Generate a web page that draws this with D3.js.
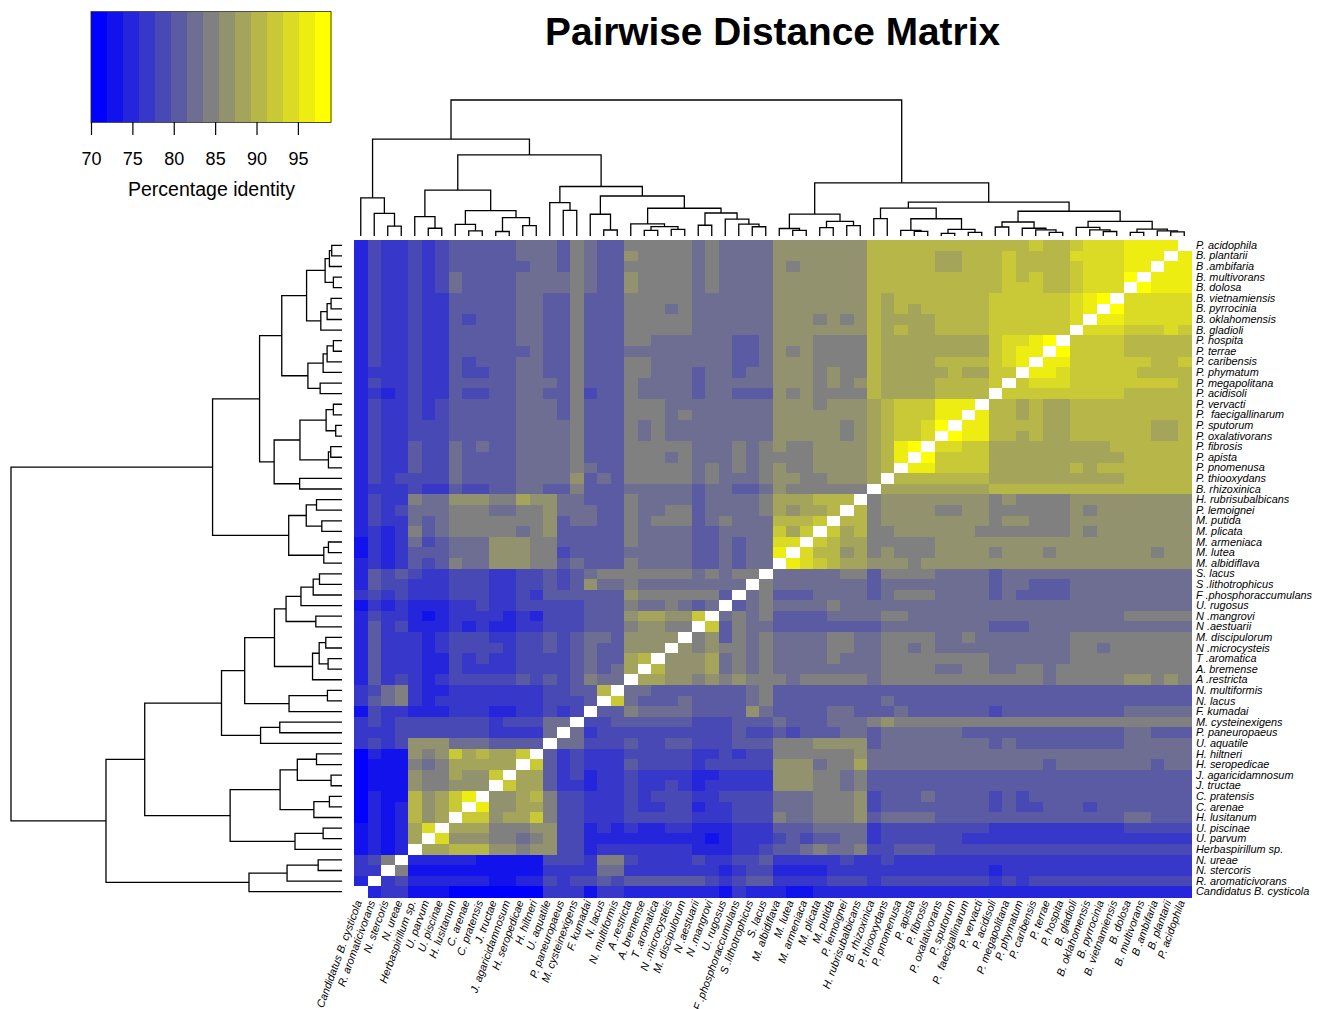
<!DOCTYPE html>
<html><head><meta charset="utf-8">
<script src="https://cdn.jsdelivr.net/npm/d3@7"></script>
<style>html,body{margin:0;padding:0;background:#fff;overflow:hidden}svg{display:block}text{font-family:"Liberation Sans",Arial,sans-serif;fill:#000}</style>
</head><body><svg id="c" width="1321" height="1009"></svg>
<script>
const titleText = "Pairwise Distance Matrix";
const keyTitle = "Percentage identity";
const keyTicks = [70,75,80,85,90,95];
const keyRange = [70,99];
const keyBins = 15;
const rowLabels = ["P. acidophila","B. plantarii","B .ambifaria","B. multivorans","B. dolosa","B. vietnamiensis","B. pyrrocinia","B. oklahomensis","B. gladioli","P. hospita","P. terrae","P. caribensis","P. phymatum","P. megapolitana","P. acidisoli","P. vervacti","P.  faecigallinarum","P. sputorum","P. oxalativorans","P. fibrosis","P. apista","P. pnomenusa","P. thiooxydans","B. rhizoxinica","H. rubrisubalbicans","P. lemoignei","M. putida","M. plicata","M. armeniaca","M. lutea","M. albidiflava","S. lacus","S .lithotrophicus","F .phosphoraccumulans","U. rugosus","N .mangrovi","N .aestuarii","M. discipulorum","N .microcysteis","T .aromatica","A. bremense","A .restricta","N. multiformis","N. lacus","F. kumadai","M. cysteinexigens","P. paneuropaeus","U. aquatile","H. hiltneri","H. seropedicae","J. agaricidamnosum","J. tructae","C. pratensis","C. arenae","H. lusitanum","U. piscinae","U. parvum","Herbaspirillum sp.","N. ureae","N. stercoris","R. aromaticivorans","Candidatus B. cysticola"];
// Identity class per cell (base-15 digit = bin of the colour key), "-" = self comparison.
// Columns run in the reverse of the row order.
const identityRows = [
"2433434 55555 66657655 77777676666 8888888 aaaaaaaaa aaabaa bcccdddd-",
"2433434 55555 66657655 87777676666 8888888 aaaaa99aa abaaaa ccccddd-d",
"2433434 55555 56657655 77777676666 8788888 aaaaa99aa abaaaa bcccdd-dd",
"2433434 65555 66667655 87777676666 8888888 aaaaaaaaa ababaa bccce-ddd",
"2433434 65555 66667655 87777676666 8888888 aaaaaaaaa abbbaa bccc-eddd",
"2433433 55555 66557555 77777666666 8888888 a9aaaaaaa bbbbbb cde-ccccc",
"2433433 55555 66557555 77767666666 8888888 a9a9aaaaa bbbbbb cd-eccccc",
"2433433 54555 66557555 77777666666 8887878 a9999aaaa bbbbbb c-ddccccc",
"2433433 55555 66557555 77777666666 8888888 a9a99aaaa bbbbbb -cccbbbcb",
"2433433 55555 66557555 77666666556 8887777 a99999999 bccde- bbbbaaaaa",
"2433433 55555 56557555 66666666556 8787777 a99999999 bcdd-e bbbbaaaaa",
"2433433 54555 66557555 77666666556 8887777 a9999aaaa bcd-dd bbbbbbaab",
"2333433 54455 66557555 77666566566 8887877 a99999a99 bb-ddc bbbbbaaaa",
"2433433 55555 66657555 76666566666 8887878 a9999aaaa b-bccc bbbbbbbba",
"2323433 54455 66557455 76666566555 8787777 a9999aaaa -bbbbb bbbbaaaaa",
"2433434 55555 66657555 77766666666 8887888 9abbbddd- aa9a99 aaaaaaaaa",
"2433434 55555 66657555 77767666666 8888888 9abbbdd-d aa9a99 aaaaaaaaa",
"2433444 55555 66667555 76766666666 8888878 9abbce-dd aaaa99 aaaaaa99a",
"2433444 55555 66667555 76766666666 8888878 9abbc-edd aa9a99 aaaaaa99a",
"2433544 65655 66667555 77777666767 8778888 9ade-ccbb 999999 999aaaaaa",
"2433544 65555 66667555 77767666767 7778888 9ad-ebbbb 999999 9999aaaaa",
"2433544 65555 66667655 77777676767 8778888 9a-ddbbbb 999999 a9aaaaaaa",
"2434444 65555 66668565 77777676667 8877888 9-aaaaaaa 999999 9999aaaaa",
"2333433 54455 66557555 66666566556 8777777 -99999999 aaaaaa aaaaaaaaa",
"2433766 88877 98866555 76666566667 999aaa- 788888888 787777 888888888",
"2434666 77766 77866655 76677566667 9899a-a 788887788 777777 878888888",
"2433656 77777 77856655 76777567666 aaab-aa 788888888 788777 888888888",
"2323756 77777 67855555 76666556666 b9b-b9a 778888887 777777 878888888",
"1323645 66688 87755555 76666556566 cc-ba99 777778888 888888 888888888",
"1323555 66688 87745555 66666556566 d-caa89 787778888 788878 888888788",
"2323545 76688 87756555 76666556566 -dcba99 888788888 888888 888888888",
"2545433 44433 44545677 7777767677- 6666677 577776666 566666 666666666",
"2544333 44433 44545866 766666666-7 6666666 566666666 566555 666666666",
"3434333 44433 43555555 87777775-67 5556666 567776666 565555 666666666",
"1323222 33433 44444555 7667656-567 6666766 666666666 666666 666666666",
"2433212 33332 32444555 89988b-6767 5555666 677666666 666666 666677777",
"2534222 32322 33444555 78877-b5766 5555555 566666666 555666 666666666",
"2533323 44433 44545665 8888-785767 6666776 677776676 666666 777777777",
"2533323 44443 44545655 888-8787767 6666776 677676666 666666 776777777",
"2533322 43433 44445655 9a-88896767 6666766 677777777 666666 777777777",
"2533322 43333 44445656 9-a88896767 6666666 677776677 667767 777777777",
"2534323 44444 54545766 -9988787877 7677777 677777777 777767 777788787",
"3467322 33333 334455a- 66555555567 5555555 555555555 555555 555555555",
"3567323 33333 334445-b 65556555567 5555555 565555555 555555 555555555",
"1433222 33322 33434-55 76666555586 5555665 556555555 455555 555566666",
"3434444 44434 4466-445 55555444555 6555666 787777777 777777 777777777",
"3334444 44433 336-6344 44444444544 5455566 566666655 555555 555566555",
"3434888 66655 55-66444 54455444555 7778888 566666666 565555 555566666",
"0211878 b9a99 b-534333 44444334344 7777778 666666666 666666 666666666",
"0111767 99999 -b534333 54444344444 8886779 666666666 666656 666666566",
"0111877 988b- 99534233 43333223333 8887767 555555555 555555 555555555",
"0111877 888-b 99533233 43343233333 8887767 555555555 555555 555555555",
"0211a89 bd-88 9a744333 43444334444 6667778 455565555 454555 555555555",
"0212a89 b-d88 99744333 43344233444 6667778 455555555 454455 545555555",
"0212a89 -bb89 9b744333 44444333444 7667778 566665555 555555 555566555",
"12129c- 99977 78844232 32233222333 5556666 344444444 333333 333344444",
"12129-c 88877 67844222 22222212333 4545566 344444433 333333 333333333",
"1212-99 aaa88 78844233 33333222334 5567667 445554444 444444 444444444",
"347-222 22111 11444377 43333433445 3333343 343333333 333333 333333333",
"33-7111 11111 11333366 33333332344 2222333 333333333 233333 333333333",
"2-34222 22211 22434454 55555543455 3333444 344444444 343444 444444444",
"-233111 00000 00333133 22222221322 2112222 222222222 222222 222222222"
];
// Dendrogram: [height, childA, childB]; a number alone is a row index.
const tree = [100,
 [39.1,
  [24.9,
   [18.2,
    [10.7,[5.1,[3.8,[3.1,0,1],2],[2.6,3,4]],[6.4,[4.5,[3.3,5,6],7],8]],
    [10.3,[5.7,[4.5,[2.6,9,10],11],12],[6.6,13,14]]],
   [20.5,
    [12.7,[4.8,[2.6,15,16],[1.9,17,18]],[4.1,[3.4,19,20],21]],
    [12.8,22,23]]],
  [16.1,
   [10.8,[7.7,24,25],[6.1,26,27]],
   [5.5,[4.1,28,29],30]]],
 [71.3,
  [59.6,
   [36.4,
    [29.4,
     [20.4,
      [16.9,[12.4,[8.7,[6.8,31,32],33],34],[7.9,35,36]],
      [8.9,[6.9,[4.9,37,38],[4.2,39,40]],41]],
     [16.0,[4.4,42,43],44]],
    [24.6,[18.8,45,46],47]],
   [33.8,
    [18.7,[13.5,[7.7,48,49],[3.3,50,51]],[8.5,[3.8,52,53],54]],
    [14.2,[5.7,55,56],57]]],
  [28.1,[16.6,[7.2,58,59],60],61]]];

const svg = d3.select("#c");
const rows = identityRows.map(s => s.replace(/ /g,""));
rows.forEach((s,i)=>{ if(s.length!==62) console.warn("row",i,s.length); });
const colLabels = rowLabels.slice().reverse();
const percent = ch => ch === "-" ? null : keyRange[0] + (parseInt(ch,15)+0.5)*(keyRange[1]-keyRange[0])/keyBins;

const ramp = d3.scaleLinear().domain([0,7,14]).range(["#0000ff","#808080","#ffff00"]);
const palette = d3.range(keyBins).map(ramp);
const color = d3.scaleQuantize().domain(keyRange).range(palette);

const x = d3.scaleBand().domain(d3.range(62)).range([354,1191]);
const y = d3.scaleBand().domain(d3.range(62)).range([240,897]);

// Heat map
const cells = rows.flatMap((s,r)=>Array.from(s,(ch,c)=>({r,c,v:percent(ch)}))).filter(d=>d.v!==null);
svg.append("g").attr("shape-rendering","crispEdges").selectAll("rect").data(cells).join("rect")
  .attr("x",d=>x(d.c)).attr("y",d=>y(d.r)).attr("width",x.bandwidth()+0.5).attr("height",y.bandwidth()+0.5)
  .attr("fill",d=>color(d.v));
// re-white the diagonal over neighbouring cell overlap
svg.append("g").attr("shape-rendering","crispEdges").selectAll("rect").data(d3.range(62)).join("rect")
  .attr("x",r=>x(61-r)).attr("y",r=>y(r)).attr("width",x.bandwidth()).attr("height",y.bandwidth()).attr("fill","#fff");

// Labels
const labelSize = 10.9;
const xLab = d3.scalePoint().domain(d3.range(62)).range([362,1185]);
svg.append("g").selectAll("text").data(rowLabels).join("text")
  .attr("x",1196).attr("y",(d,i)=>y(i)+y.bandwidth()/2+3.6)
  .attr("font-size",labelSize).attr("font-style","italic").style("white-space","pre").text(d=>d);
svg.append("g").selectAll("text").data(colLabels).join("text")
  .attr("transform",(d,i)=>`translate(${xLab(i)},902) rotate(-70)`)
  .attr("text-anchor","end").attr("font-size",labelSize).attr("font-style","italic").style("white-space","pre").text(d=>d);

// Dendrograms
function layout(n){
  if(typeof n==="number") return {pos:n,h:0,leaf:true};
  const a=layout(n[1]), b=layout(n[2]);
  return {pos:(a.pos+b.pos)/2,h:n[0],a,b};
}
const root = layout(tree);
const flat=[]; (function walk(n){ if(!n.leaf){flat.push(n);walk(n.a);walk(n.b);} })(root);
const hL = d3.scaleLinear().domain([0,100]).range([342,11]);
const hT = d3.scaleLinear().domain([0,100]).range([236,100]);
const rowC = p => y(0)+y.bandwidth()*(p+0.5);
const colC = p => x(0)+x.bandwidth()*(61-p+0.5);
const seg = (g,fn)=>g.selectAll("path").data(flat).join("path").attr("d",fn).attr("fill","none").attr("stroke","#000").attr("stroke-width",1.3);
seg(svg.append("g"),n=>`M${hL(n.a.h)},${rowC(n.a.pos)}H${hL(n.h)}V${rowC(n.b.pos)}H${hL(n.b.h)}`);
seg(svg.append("g"),n=>`M${colC(n.a.pos)},${hT(n.a.h)}V${hT(n.h)}H${colC(n.b.pos)}V${hT(n.b.h)}`);

// Colour key
const kx = d3.scaleLinear().domain(keyRange).range([91,331]);
const step=(keyRange[1]-keyRange[0])/keyBins;
svg.append("g").attr("shape-rendering","crispEdges").selectAll("rect").data(palette).join("rect")
  .attr("x",(d,i)=>kx(keyRange[0]+i*step)).attr("y",12)
  .attr("width",kx(keyRange[0]+step)-kx(keyRange[0])+0.5).attr("height",110).attr("fill",d=>d);
svg.append("rect").attr("x",91).attr("y",11.5).attr("width",240).attr("height",111).attr("fill","none").attr("stroke","#222").attr("stroke-width",0.8);
const ax = svg.append("g").attr("transform","translate(0,122)")
  .call(d3.axisBottom(kx).tickValues(keyTicks).tickSize(13).tickPadding(17).tickSizeOuter(0));
ax.select(".domain").remove();
ax.selectAll("line").attr("stroke","#000").attr("stroke-width",1.2);
ax.selectAll("text").attr("font-size",18).style("font-family",'"Liberation Sans"');
svg.append("text").attr("x",211.5).attr("y",195.5).attr("text-anchor","middle").attr("font-size",19.5).text(keyTitle);

// Title
svg.append("text").attr("x",772.5).attr("y",45).attr("text-anchor","middle").attr("font-size",38.8).attr("font-weight","bold").text(titleText);
</script></body></html>
